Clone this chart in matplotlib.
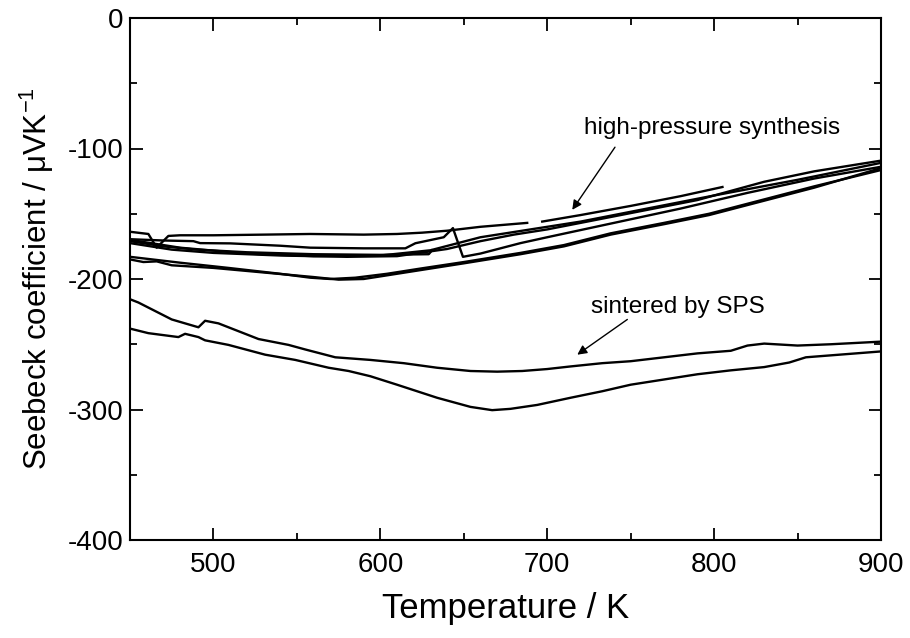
import matplotlib
matplotlib.use("Agg")
import matplotlib.pyplot as plt
import numpy as np

plt.rcParams['font.family'] = ['Liberation Sans', 'DejaVu Sans']
plt.rcParams['axes.unicode_minus'] = False
plt.rcParams['mathtext.default'] = 'regular'

# high-pressure synthesis samples (T in K, S in uV/K)
hp_a_T = [450, 461, 466, 473, 480, 500, 530, 558, 590, 610, 625, 640, 660, 688, 692, 697, 720, 750, 780, 805]
hp_a_S = [-163.8, -165.5, -176, -167, -166.5, -166.5, -166, -165.5, -166, -165.5, -164.5, -163, -160, -157, np.nan, -156, -151, -144, -136.5, -129.5]

hp_b_T = [450, 470, 488, 492, 510, 540, 558, 590, 615, 621, 638, 643.5, 649.5, 660, 684, 700, 740, 780, 820, 860, 900]
hp_b_S = [-169.5, -170.5, -171, -172.5, -172.7, -174.5, -176, -176.5, -176.5, -172.6, -168, -161, -183, -180.5, -172.5, -168, -157, -146, -134, -123, -114]

hp_c_T = [450, 470, 490, 520, 560, 600, 629, 631]
hp_c_S = [-171, -175, -177.5, -179.5, -181, -181.5, -181, -178]

hp_d_T = [450, 475, 500, 540, 580, 610, 640, 660, 680, 700, 740, 790, 830, 860, 900]
hp_d_S = [-172.5, -177.5, -180, -182, -183, -182.5, -177, -171, -166, -162, -152, -139.5, -125.5, -117.5, -109.3]

hp_e_T = [450, 480, 520, 560, 600, 630, 660, 690, 720, 760, 800, 850, 900]
hp_e_S = [-170, -176, -180.5, -182.5, -182, -178, -168, -162, -156, -146, -136, -124, -111]

hp_f_T = [450, 480, 509, 540, 558, 570, 585, 604, 624, 650, 684, 710, 738, 770, 797, 830, 860, 900]
hp_f_S = [-183, -187.5, -191.5, -196, -199, -200, -199, -196, -192, -187, -180, -174, -165, -157, -150, -139, -129, -116.5]

hp_g_T = [450, 458, 466, 475, 500, 530, 560, 575, 590, 605, 625, 650, 684, 710, 738, 770, 797, 830, 860, 900]
hp_g_S = [-185, -187, -186.5, -189.5, -191.5, -195, -198.5, -200.5, -200, -197, -193, -188, -181, -175, -166, -158, -151, -140, -130, -115]

# spark plasma sintered samples
sps_up_T = [450, 455, 475, 491, 495, 503, 527, 545, 555, 573, 594, 614, 634, 654, 670, 685, 700, 714, 733, 750, 770, 790, 810, 820, 830, 850, 870, 900]
sps_up_S = [-215.5, -218, -231, -237, -232, -234, -246, -250.5, -254, -260, -262, -264.5, -268, -270.5, -271, -270.5, -269, -267, -264.5, -263, -260, -257, -255, -251, -249.5, -251, -250, -248]

sps_lo_T = [450, 461, 479, 483, 491, 495, 509, 531, 549, 569, 581, 594, 610, 634, 654, 667, 678, 694, 714, 733, 750, 770, 790, 810, 830, 845, 855, 870, 885, 900]
sps_lo_S = [-238, -241.5, -244.5, -242, -244.5, -247, -250.5, -258, -262, -268, -270.5, -274.5, -281, -291, -298, -300.5, -299.5, -296.5, -291, -286, -281, -277, -273, -270, -267.5, -264, -260, -258.5, -257, -255.5]

curves = [(hp_a_T, hp_a_S), (hp_b_T, hp_b_S), (hp_c_T, hp_c_S), (hp_d_T, hp_d_S),
          (hp_e_T, hp_e_S), (hp_f_T, hp_f_S), (hp_g_T, hp_g_S),
          (sps_up_T, sps_up_S), (sps_lo_T, sps_lo_S)]

fig = plt.figure(figsize=(9.1, 6.38), dpi=100)
ax = fig.add_axes([130/910, 1-540/638, 751/910, 522/638])

for T, S in curves:
    ax.plot(T, S, color='black', lw=1.7)

ax.set_xlim(450, 900)
ax.set_ylim(-400, 0)
ax.set_xticks([500, 600, 700, 800, 900])
ax.set_xticks(np.arange(450, 901, 50), minor=True)
ax.set_yticks([-400, -300, -200, -100, 0])
ax.set_yticks(np.arange(-400, 1, 50), minor=True)
ax.tick_params(which='both', direction='in', top=True, right=True, width=1.3, labelsize=20)
ax.tick_params(which='major', length=9)
ax.tick_params(which='minor', length=5)
ax.tick_params(axis='x', which='major', pad=9)
ax.tick_params(axis='y', which='major', pad=5)
for sp in ax.spines.values():
    sp.set_linewidth(1.5)

ax.set_xlabel("Temperature / K", fontsize=25, labelpad=10)
ax.set_ylabel("Seebeck coefficient / μVK$^{-1}$", fontsize=22.5, labelpad=8)

# labels and their arrows
ax.text(798.5, -84, "high-pressure synthesis", ha='center', va='center', fontsize=17.5)
ax.annotate("", xy=(715, -147), xytext=(740.6, -99),
            arrowprops=dict(arrowstyle='-|>', color='black', lw=1, mutation_scale=14,
                            shrinkA=0, shrinkB=0))
ax.text(778, -221.8, "sintered by SPS", ha='center', va='center', fontsize=17.5)
ax.annotate("", xy=(718, -258), xytext=(748, -231),
            arrowprops=dict(arrowstyle='-|>', color='black', lw=1, mutation_scale=14,
                            shrinkA=0, shrinkB=0))

plt.savefig("out.png", dpi=100)
